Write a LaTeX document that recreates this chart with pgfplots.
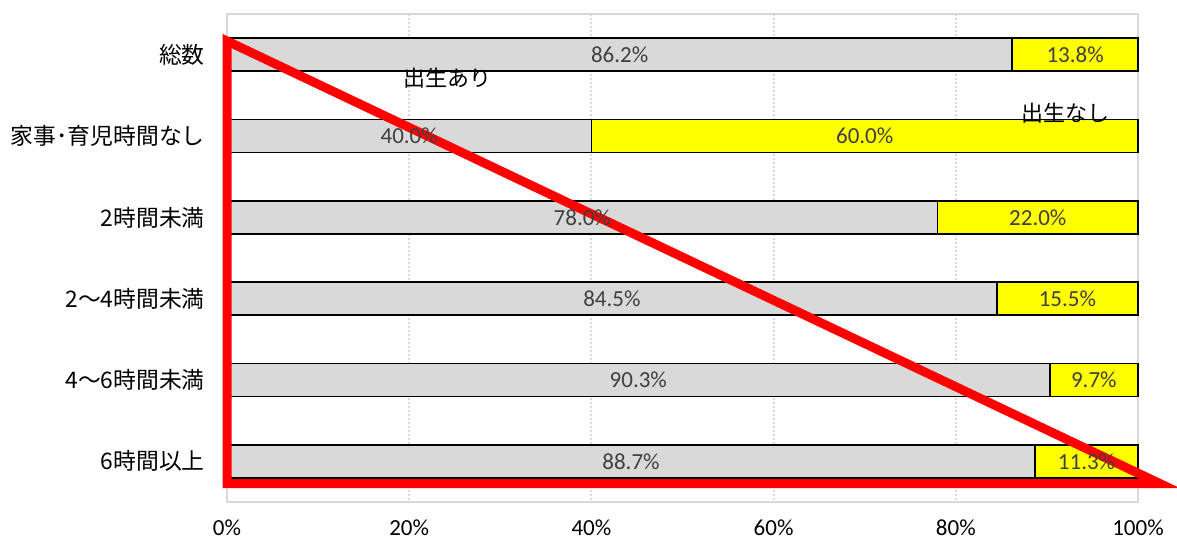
\documentclass[border=0pt]{standalone}
\usepackage{fontspec}
\setmainfont{Carlito}
\newfontfamily\jp{Noto Sans CJK JP}
\usepackage{pgfplots}
\usepackage{pgfplotstable}
\pgfplotsset{compat=1.18}
\definecolor{barGray}{HTML}{D9D9D9}
\definecolor{barYellow}{HTML}{FFFF00}
\definecolor{lab}{HTML}{404040}
\definecolor{frameGray}{HTML}{D9D9D9}

\pgfplotstableread{
y a b
0 86.2 13.8
1 40.0 60.0
2 78.0 22.0
3 84.5 15.5
4 90.3 9.7
5 88.7 11.3
}\datatable

\begin{document}
\begin{tikzpicture}
\pgfplotsset{base/.style={scale only axis, width=911pt, height=488pt,
  xmin=0, xmax=100, ymin=-0.5, ymax=5.5, y dir=reverse, clip=false,
  at={(0pt,0pt)}, anchor=south west,
  /pgf/number format/assume math mode=true}}
\begin{axis}[base, xbar stacked, bar width=33pt,
  axis line style={draw=frameGray, line width=1.5pt},
  xtick={0,20,...,100}, xticklabels={0\%,20\%,40\%,60\%,80\%,100\%},
  ytick={0,...,5},
  yticklabels={総数,家事･育児時間なし,2時間未満,2〜4時間未満,4〜6時間未満,6時間以上},
  tick style={draw=none},
  xmajorgrids, ymajorgrids=false,
  major grid style={draw=frameGray, dash pattern=on 2pt off 2pt, line width=2pt},
  xticklabel style={font=\fontsize{23}{27}\selectfont, text=black, inner sep=0pt, yshift=-18pt},
  yticklabel style={font=\jp\fontsize{22.8}{27}\selectfont, text=black, inner sep=0pt, xshift=-22pt},
  ]
\addplot[fill=barGray, draw=black, line width=1.8pt] table[x=a, y=y]{\datatable};
\addplot[fill=barYellow, draw=black, line width=1.8pt] table[x=b, y=y]{\datatable};
\end{axis}
\begin{axis}[base, hide axis]
\addplot[draw=none, mark=none,
  nodes near coords={\pgfmathprintnumber[fixed, fixed zerofill, precision=1]{\pgfplotspointmeta}\%},
  point meta=\thisrow{a},
  every node near coord/.style={anchor=center, text=lab, font=\fontsize{23}{27}\selectfont}]
  table[x expr=\thisrow{a}/2, y=y]{\datatable};
\addplot[draw=none, mark=none,
  nodes near coords={\pgfmathprintnumber[fixed, fixed zerofill, precision=1]{\pgfplotspointmeta}\%},
  point meta=\thisrow{b},
  every node near coord/.style={anchor=center, text=lab, font=\fontsize{23}{27}\selectfont}]
  table[x expr=\thisrow{a}+\thisrow{b}/2, y=y]{\datatable};
\draw[red, line width=9pt] (axis cs:0,-0.168) -- (axis cs:0,5.273) -- (axis cs:102.4,5.273) -- cycle;
\node[font=\jp\fontsize{22}{26}\selectfont, inner sep=0pt] at (axis cs:24.15,0.287) {出生あり};
\node[font=\jp\fontsize{22}{26}\selectfont, inner sep=0pt] at (axis cs:92.0,0.717) {出生なし};
\end{axis}
\pgfresetboundingbox
\path[use as bounding box] (-227pt,-39pt) rectangle (950pt,502pt);
\end{tikzpicture}
\end{document}
